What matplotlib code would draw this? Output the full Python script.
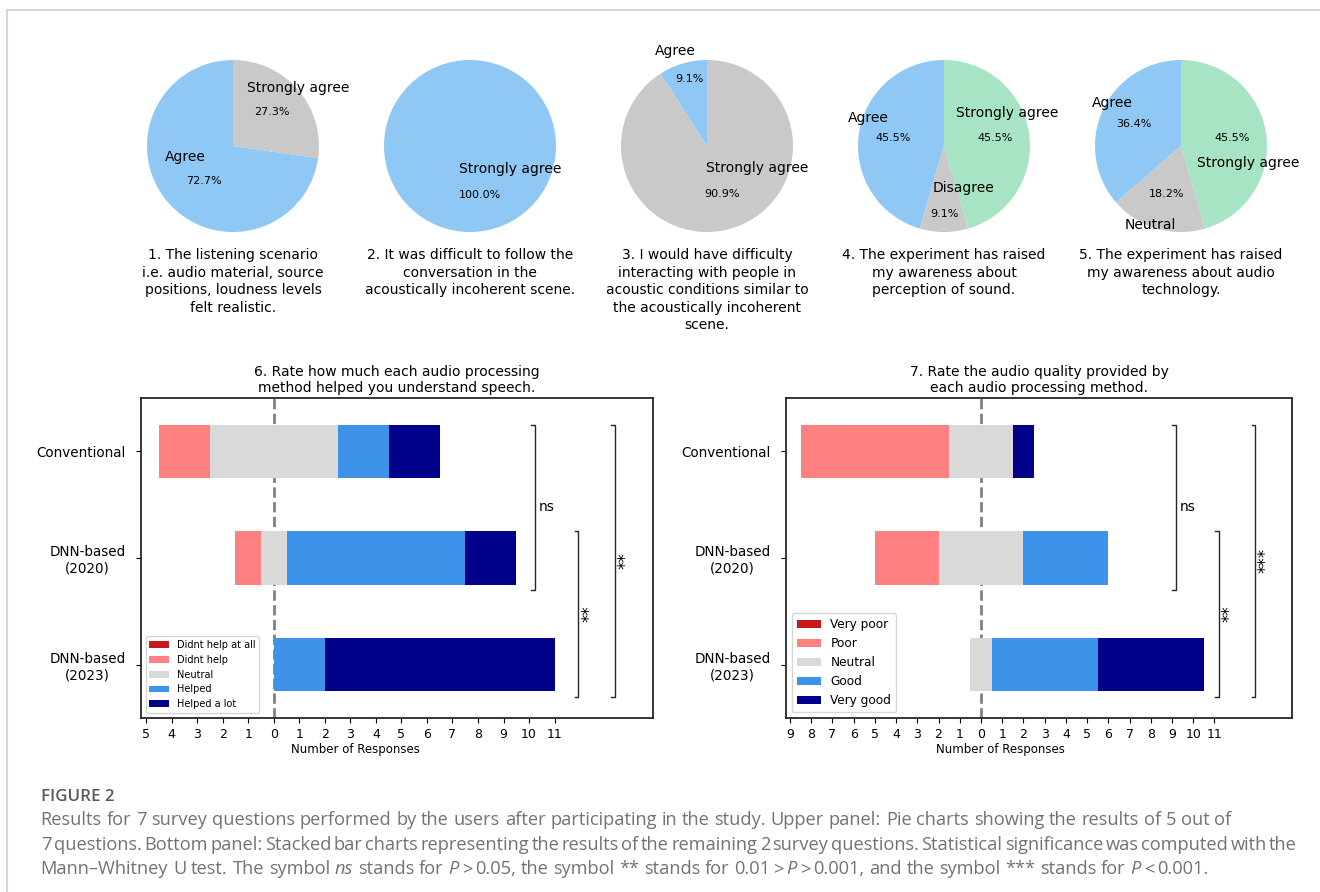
import matplotlib
matplotlib.use("Agg")
import matplotlib.pyplot as plt
import matplotlib.transforms as mtransforms
from matplotlib.lines import Line2D

plt.rcParams["font.family"] = ["DejaVu Sans"]

FIG_W, FIG_H = 1320, 892

# ---------------- survey answers: pie questions ----------------
pie_titles = [
    "1. The listening scenario\ni.e. audio material, source\npositions, loudness levels\nfelt realistic.",
    "2. It was difficult to follow the\nconversation in the\nacoustically incoherent scene.",
    "3. I would have difficulty\ninteracting with people in\nacoustic conditions similar to\nthe acoustically incoherent\nscene.",
    "4. The experiment has raised\nmy awareness about\nperception of sound.",
    "5. The experiment has raised\nmy awareness about audio\ntechnology.",
]
pie1_answers = ["Agree", "Strongly agree"]
pie1_counts = [8, 3]
pie2_answers = ["Strongly agree"]
pie2_counts = [11]
pie3_answers = ["Agree", "Strongly agree"]
pie3_counts = [1, 10]
pie4_answers = ["Agree", "Disagree", "Strongly agree"]
pie4_counts = [5, 1, 5]
pie5_answers = ["Agree", "Neutral", "Strongly agree"]
pie5_counts = [4, 2, 5]

# ---------------- survey answers: rating questions ----------------
methods = ["Conventional", "DNN-based\n(2020)", "DNN-based\n(2023)"]

q6_title = "6. Rate how much each audio processing\nmethod helped you understand speech."
q6_levels = ["Didnt help at all", "Didnt help", "Neutral", "Helped", "Helped a lot"]
q6_conventional = [0, 2, 5, 2, 2]
q6_dnn2020 = [0, 1, 1, 7, 2]
q6_dnn2023 = [0, 0, 0, 2, 9]
q6_xticks = list(range(-5, 12))
q6_significance = ["ns", "**", "**"]

q7_title = "7. Rate the audio quality provided by\neach audio processing method."
q7_levels = ["Very poor", "Poor", "Neutral", "Good", "Very good"]
q7_conventional = [0, 7, 3, 0, 1]
q7_dnn2020 = [0, 3, 4, 4, 0]
q7_dnn2023 = [0, 0, 1, 5, 5]
q7_xticks = list(range(-9, 12))
q7_significance = ["ns", "**", "***"]

sig_pairs = [(0, 1), (1, 2), (0, 2)]

caption_label = "FIGURE 2"
caption_lines = [
    "Results for 7 survey questions performed by the users after participating in the study. Upper panel: Pie charts showing the results of 5 out of",
    "7 questions. Bottom panel: Stacked bar charts representing the results of the remaining 2 survey questions. Statistical significance was computed with the",
    "Mann\u2013Whitney U test. The symbol _ns_ stands for _P_~>~0.05, the symbol ** stands for 0.01~>~_P_~>~0.001, and the symbol *** stands for _P_~<~0.001.",
]

# ---------------- styling ----------------
pie_colors = ["#8fc8f4", "#c9c9c9", "#a7e4c3"]
level_colors = ["#c81a1a", "#ff8080", "#d9d9d9", "#3d93ea", "#00008b"]
spine_color = "#262626"

# label / percentage placement inside each pie (in units of the radius)
pie_label_xy = [
    [(-0.55, -0.13), (0.76, 0.67)],
    [(0.47, -0.27)],
    [(-0.37, 1.10), (0.58, -0.26)],
    [(-0.88, 0.33), (0.23, -0.49), (0.73, 0.38)],
    [(-0.80, 0.50), (-0.36, -0.92), (0.78, -0.20)],
]
pie_pct_xy = [
    [(-0.34, -0.41), (0.45, 0.40)],
    [(0.12, -0.57)],
    [(-0.21, 0.78), (0.17, -0.56)],
    [(-0.59, 0.09), (0.0, -0.79), (0.60, 0.09)],
    [(-0.55, 0.26), (-0.17, -0.56), (0.59, 0.09)],
]


def px_axes(fig, x0, y0, w, h):
    """Axes from a pixel box measured from the top-left corner."""
    return fig.add_axes([x0 / FIG_W, 1 - (y0 + h) / FIG_H, w / FIG_W, h / FIG_H])


fig = plt.figure(figsize=(FIG_W / 100, FIG_H / 100), dpi=100)

# page frame (top and left rules)
fig.add_artist(Line2D([7 / FIG_W, 1.01], [1 - 10 / FIG_H, 1 - 10 / FIG_H],
                      transform=fig.transFigure, color="#d8d8d8", lw=1.5))
fig.add_artist(Line2D([7 / FIG_W, 7 / FIG_W], [-0.01, 1 - 10 / FIG_H],
                      transform=fig.transFigure, color="#d8d8d8", lw=1.5))

# ---------------- pies ----------------
pie_answers = [pie1_answers, pie2_answers, pie3_answers, pie4_answers, pie5_answers]
pie_counts = [pie1_counts, pie2_counts, pie3_counts, pie4_counts, pie5_counts]
R_PX = 86
pie_cx = [233, 470, 707, 944, 1181]
pie_cy = 146
for k in range(5):
    half = 1.25 * R_PX
    ax = px_axes(fig, pie_cx[k] - half, pie_cy - half, 2 * half, 2 * half)
    n = len(pie_counts[k])
    wedges, labels, pcts = ax.pie(pie_counts[k], labels=pie_answers[k],
                                  colors=pie_colors[:n], startangle=90,
                                  autopct="%1.1f%%",
                                  textprops=dict(fontsize=10))
    for t, xy in zip(labels, pie_label_xy[k]):
        t.set_position(xy)
        t.set_ha("center")
        t.set_va("center")
    for t, xy in zip(pcts, pie_pct_xy[k]):
        t.set_position(xy)
        t.set_fontsize(8)
        t.set_ha("center")
        t.set_va("center")
    ax.set_xlim(-1.25, 1.25)
    ax.set_ylim(-1.25, 1.25)
    fig.text(pie_cx[k] / FIG_W, 1 - 248 / FIG_H, pie_titles[k], ha="center",
             va="top", fontsize=10, linespacing=1.32)


# ---------------- diverging stacked bars ----------------
def diverging_panel(ax, rows, levels, title, xticks, xlim, sig_labels, legend_size):
    lefts = [-(r[0] + r[1] + r[2] / 2) for r in rows]
    ypos = list(range(len(rows)))
    for j, (lvl, col) in enumerate(zip(levels, level_colors)):
        widths = [r[j] for r in rows]
        ax.barh(ypos, widths, left=lefts, height=0.5, color=col, label=lvl, zorder=2)
        lefts = [l + w for l, w in zip(lefts, widths)]
    ax.axvline(0, color="#808080", ls="--", lw=2, zorder=1)

    ax.set_yticks(ypos)
    ax.set_yticklabels(methods, fontsize=9.75)
    for t in ax.get_yticklabels():
        t.set_multialignment("center")
    ax.tick_params(axis="y", pad=7.5)
    ax.set_xticks(xticks)
    ax.set_xticklabels([str(abs(v)) for v in xticks], fontsize=9)
    ax.set_xlabel("Number of Responses", fontsize=8.5)
    ax.set_title(title, fontsize=10, pad=4)
    for s in ax.spines.values():
        s.set_linewidth(1.3)
        s.set_color(spine_color)

    tr = mtransforms.blended_transform_factory(ax.transAxes, ax.transData)
    bracket_x = [0.770, 0.855, 0.927]
    for (i, j), lab, bx in zip(sig_pairs, sig_labels, bracket_x):
        y0, y1 = i - 0.25, j + 0.3
        ax.plot([bx - 0.0075, bx, bx, bx - 0.0075], [y0, y0, y1, y1],
                transform=tr, color=spine_color, lw=1.0, clip_on=False)
        ym = (y0 + y1) / 2
        if lab == "ns":
            ax.text(bx + 0.007, ym, lab, transform=tr, ha="left", va="center", fontsize=10)
        else:
            ax.text(bx + 0.003, ym, lab, transform=tr, rotation=90, ha="left",
                    va="center", fontsize=12)

    ax.legend(loc="lower left", fontsize=legend_size)
    ax.set_xlim(*xlim)
    ax.set_ylim(2.5, -0.5)


ax6 = px_axes(fig, 140.7, 398, 512, 320)
diverging_panel(ax6, [q6_conventional, q6_dnn2020, q6_dnn2023], q6_levels, q6_title,
                q6_xticks, (-5.21, 14.84), q6_significance, 7)
ax6.xaxis.set_label_coords(0.4186, -0.078)

ax7 = px_axes(fig, 785.7, 398, 506.6, 320)
diverging_panel(ax7, [q7_conventional, q7_dnn2020, q7_dnn2023], q7_levels, q7_title,
                q7_xticks, (-9.2, 14.67), q7_significance, 8.7)
ax7.xaxis.set_label_coords(0.4246, -0.078)

# ---------------- caption ----------------
CAP_FONT = ["Open Sans", "DejaVu Sans"]
CAP_COLOR = "#727272"
renderer = fig.canvas.get_renderer()


def text_width(s, size, italic=False):
    t = fig.text(0, 0, s, fontsize=size, family=CAP_FONT,
                 style="italic" if italic else "normal")
    w = t.get_window_extent(renderer).width
    t.remove()
    return w


def parse_words(line):
    words = []
    for w in line.split(" "):
        chunks = []
        for chunk in w.split("~"):
            parts = chunk.split("_")
            chunks.append([(p, i % 2 == 1) for i, p in enumerate(parts) if p])
        words.append(chunks)
    return words


def word_width(chunks, size, thin):
    total = 0.0
    for c in chunks:
        for s, it in c:
            total += text_width(s, size, it)
    return total + thin * (len(chunks) - 1)


def draw_line(line, x0, y_base, size, justify_to=None):
    words = parse_words(line)
    thin = 0.16 * size * 100 / 72
    space = text_width("a a", size) - text_width("aa", size)
    widths = [word_width(c, size, thin) for c in words]
    gap = space
    if justify_to is not None:
        gap = (justify_to - x0 - sum(widths)) / (len(words) - 1)
    x = x0
    for chunks, w in zip(words, widths):
        xx = x
        for c in chunks:
            for s, it in c:
                fig.text(xx / FIG_W, 1 - y_base / FIG_H, s, fontsize=size,
                         family=CAP_FONT, style="italic" if it else "normal",
                         color=CAP_COLOR, ha="left", va="baseline")
                xx += text_width(s, size, it)
            xx += thin
        x += w + gap


cap_x0 = 40.7
base_size = 10
natural = sum(word_width(c, base_size, 0.16 * base_size * 100 / 72)
              for c in parse_words(caption_lines[0]))
n_gaps = len(caption_lines[0].split(" ")) - 1
space0 = text_width("a a", base_size) - text_width("aa", base_size)
cap_size = base_size * (1238 - cap_x0) / (natural + n_gaps * space0)

fig.text(cap_x0 / FIG_W, 1 - 801 / FIG_H, caption_label, fontsize=cap_size * 0.92,
         family=CAP_FONT, weight="semibold", color="#5a5a5a", ha="left", va="baseline")
draw_line(caption_lines[0], cap_x0, 825, cap_size)
draw_line(caption_lines[1], cap_x0, 849.5, cap_size, justify_to=1297)
draw_line(caption_lines[2], cap_x0, 874, cap_size)

fig.savefig("out.png", dpi=100)
